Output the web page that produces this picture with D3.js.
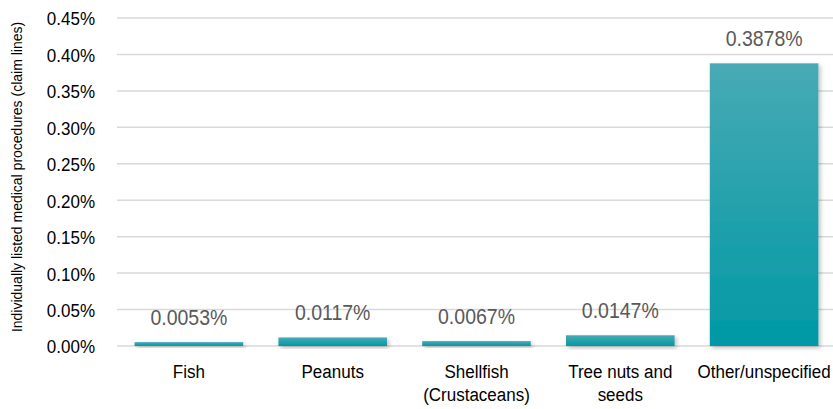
<!DOCTYPE html>
<html>
<head>
<meta charset="utf-8">
<script src="https://cdn.jsdelivr.net/npm/d3@7"></script>
<style>
  body { margin: 0; background: #fff; }
  text { font-family: "Liberation Sans", Arial, sans-serif; }
</style>
</head>
<body>
<div id="chart"></div>
<script>
document.addEventListener('DOMContentLoaded', () => {
    const categories = ['Fish', 'Peanuts', 'Shellfish (Crustaceans)', 'Tree nuts and seeds', 'Other/unspecified'];
    const categoryLines = [['Fish'], ['Peanuts'], ['Shellfish', '(Crustaceans)'], ['Tree nuts and', 'seeds'], ['Other/unspecified']];
    const values = [0.0053, 0.0117, 0.0067, 0.0147, 0.3878];
    const valueLabels = ['0.0053%', '0.0117%', '0.0067%', '0.0147%', '0.3878%'];
    const yTicks = [0, 0.05, 0.10, 0.15, 0.20, 0.25, 0.30, 0.35, 0.40, 0.45];

    const W = 833, H = 409;
    const margin = { top: 18, right: -3, bottom: 63, left: 117 },
        width = W - margin.left - margin.right,
        height = H - margin.top - margin.bottom;
    const stretch = 1.13; // text in the picture is a bit taller than wide

    const root = d3.select('#chart').append('svg')
        .attr('width', W)
        .attr('height', H);

    const defs = root.append('defs');
    const grad = defs.append('linearGradient')
        .attr('id', 'barGrad')
        .attr('x1', 0).attr('y1', 0).attr('x2', 0).attr('y2', 1);
    grad.append('stop').attr('offset', '0%').attr('stop-color', '#48aab4');
    grad.append('stop').attr('offset', '100%').attr('stop-color', '#0099a5');

    const shadow = defs.append('filter').attr('id', 'shadow')
        .attr('x', '-10%').attr('y', '-10%').attr('width', '130%').attr('height', '140%');
    shadow.append('feDropShadow')
        .attr('dx', 2).attr('dy', 2).attr('stdDeviation', 2)
        .attr('flood-color', '#000').attr('flood-opacity', 0.25);

    const svg = root.append('g')
        .attr('transform', 'translate(' + margin.left + ',' + margin.top + ')');

    const xScale = d3.scaleBand().domain(categories).range([0, width]).paddingInner(0.245).paddingOuter(0.1225);
    const yScale = d3.scaleLinear().domain([0, 0.45]).range([height, 0]);

    // gridlines
    svg.append('g')
        .selectAll('line')
        .data(yTicks)
        .join('line')
        .attr('x1', 0)
        .attr('x2', width)
        .attr('y1', d => yScale(d))
        .attr('y2', d => yScale(d))
        .attr('stroke', '#d9d9d9')
        .attr('stroke-width', 1.5);

    // y axis labels
    const yAxis = d3.axisLeft(yScale)
        .tickValues(yTicks)
        .tickSize(0)
        .tickPadding(22)
        .tickFormat(d => d.toFixed(2) + '%');
    const yg = svg.append('g').call(yAxis);
    yg.select('.domain').remove();
    yg.selectAll('text')
        .attr('font-size', 17)
        .attr('font-family', '"Liberation Sans", Arial, sans-serif')
        .attr('fill', '#000')
        .attr('dy', '0.36em')
        .attr('transform', 'scale(1,' + stretch + ')');

    // bars
    svg.append('g')
        .selectAll('rect')
        .data(values)
        .join('rect')
        .attr('x', (d, i) => xScale(categories[i]))
        .attr('width', xScale.bandwidth())
        .attr('y', d => yScale(d))
        .attr('height', d => height - yScale(d))
        .attr('fill', 'url(#barGrad)')
        .attr('filter', 'url(#shadow)');

    // value labels
    svg.append('g')
        .selectAll('text')
        .data(values)
        .join('text')
        .attr('transform', (d, i) => 'translate(' + (xScale(categories[i]) + xScale.bandwidth() / 2) + ',' +
            (yScale(d) - 17) + ') scale(1,' + stretch + ')')
        .attr('text-anchor', 'middle')
        .attr('font-size', 19.5)
        .attr('fill', '#595959')
        .text((d, i) => valueLabels[i]);

    // category labels
    const xg = svg.append('g');
    categories.forEach((c, i) => {
        const t = xg.append('text')
            .attr('text-anchor', 'middle')
            .attr('font-size', 17)
            .attr('fill', '#000')
            .attr('transform', 'translate(' + (xScale(c) + xScale.bandwidth() / 2) + ',' + (height + 32) +
                ') scale(1,' + stretch + ')');
        categoryLines[i].forEach((line, j) => {
            t.append('tspan')
                .attr('x', 0)
                .attr('dy', j === 0 ? 0 : 23 / stretch)
                .text(line);
        });
    });

    // y axis title
    root.append('text')
        .attr('transform', 'translate(22,' + 177 + ') rotate(-90) scale(1.0,' + 1.05 + ')')
        .attr('text-anchor', 'middle')
        .attr('font-size', 14)
        .attr('fill', '#000')
        .text('Individually listed medical procedures (claim lines)');
});
</script>
</body>
</html>
